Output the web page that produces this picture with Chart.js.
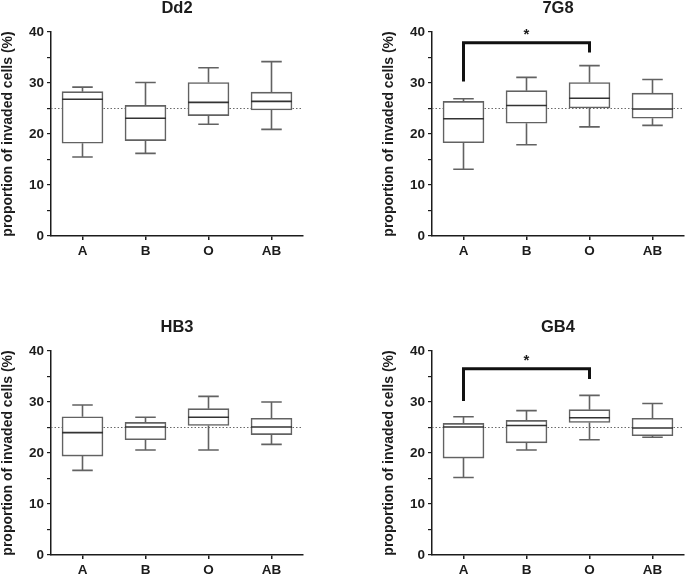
<!DOCTYPE html>
<html>
<head>
<meta charset="utf-8">
<script src="https://cdn.jsdelivr.net/npm/chart.js@4.4.1/dist/chart.umd.min.js"></script>
<style>
  body { margin: 0; background: #fff; width: 685px; height: 574px; position: relative; overflow: hidden; }
  canvas { position: absolute; }
</style>
</head>
<body>
<canvas id="dd2" width="310" height="262" style="left:0;top:0"></canvas>
<canvas id="g7g8" width="310" height="262" style="left:381px;top:0"></canvas>
<canvas id="hb3" width="310" height="262" style="left:0;top:319px"></canvas>
<canvas id="gb4" width="310" height="262" style="left:381px;top:319px"></canvas>
<script>
// blood groups on the x axis
const groups = ["A", "B", "O", "AB"];
const yTicks = [0, 10, 20, 30, 40];
const expected = 25;

// five-number summaries per group: [min, q1, median, q3, max]
const dd2Box = [[15.5, 18.2, 26.8, 28.3, 29.2], [16.2, 18.7, 23.1, 25.6, 30.1], [21.9, 23.6, 26.2, 30.1, 33.0], [20.9, 24.7, 26.4, 28.2, 34.2]];
const g7g8Box = [[13.1, 18.3, 23.0, 26.4, 26.9], [17.9, 22.1, 25.6, 28.5, 31.1], [21.4, 25.1, 27.0, 30.1, 33.4], [21.7, 23.1, 24.9, 28.0, 30.7]];
const hb3Box = [[16.6, 19.4, 24.0, 27.1, 29.4], [20.6, 22.6, 25.1, 26.0, 27.0], [20.6, 25.4, 27.0, 28.7, 31.1], [21.7, 23.6, 25.1, 26.8, 30.0]];
const gb4Box = [[15.2, 19.0, 25.1, 25.8, 27.1], [20.6, 22.0, 25.4, 26.4, 28.3], [22.6, 26.0, 26.9, 28.5, 31.3], [23.1, 23.4, 24.9, 26.8, 29.7]];

// significance brackets A vs O: [left end, top, right end]
const sigPair = ["A", "O"];
const g7g8Sig = [30.3, 37.9, 36.0];
const gb4Sig = [30.2, 36.5, 34.5];

const FONT = "'Liberation Sans', Arial, sans-serif";
const INK = "#1c1c1c";
const BOX = "#626262";

function boxPlot(stats, bracket) {
    return {
        id: "boxPlot",
        beforeDatasetsDraw(chart) {
            const { ctx, chartArea, scales } = chart;
            const yRef = scales.y.getPixelForValue(expected);
            ctx.save();
            ctx.strokeStyle = "#6a6a6a";
            ctx.lineWidth = 1;
            ctx.setLineDash([1.5, 2]);
            ctx.beginPath();
            ctx.moveTo(chartArea.left, yRef);
            ctx.lineTo(chartArea.right, yRef);
            ctx.stroke();
            ctx.restore();
        },
        afterDatasetsDraw(chart) {
            const { ctx, scales: { x, y } } = chart;
            const bars = chart.getDatasetMeta(0).data;
            ctx.save();
            ctx.lineCap = "butt";
            stats.forEach((s, i) => {
                const [lo, q1, med, q3, hi] = s;
                const cx = x.getPixelForValue(i);
                const half = bars[i].width / 2;
                const cap = half / 2;
                ctx.strokeStyle = BOX;
                ctx.lineWidth = 1.6;
                ctx.beginPath();
                ctx.moveTo(cx, y.getPixelForValue(q3));
                ctx.lineTo(cx, y.getPixelForValue(hi));
                ctx.moveTo(cx - cap, y.getPixelForValue(hi));
                ctx.lineTo(cx + cap, y.getPixelForValue(hi));
                ctx.moveTo(cx, y.getPixelForValue(q1));
                ctx.lineTo(cx, y.getPixelForValue(lo));
                ctx.moveTo(cx - cap, y.getPixelForValue(lo));
                ctx.lineTo(cx + cap, y.getPixelForValue(lo));
                ctx.stroke();
                ctx.strokeStyle = "#333";
                ctx.beginPath();
                ctx.moveTo(cx - half, y.getPixelForValue(med));
                ctx.lineTo(cx + half, y.getPixelForValue(med));
                ctx.stroke();
            });
            if (bracket) {
                const x0 = x.getPixelForValue(groups.indexOf(sigPair[0]));
                const x1 = x.getPixelForValue(groups.indexOf(sigPair[1]));
                ctx.strokeStyle = "#111";
                ctx.lineWidth = 3;
                ctx.lineJoin = "miter";
                ctx.beginPath();
                ctx.moveTo(x0, y.getPixelForValue(bracket[0]));
                ctx.lineTo(x0, y.getPixelForValue(bracket[1]));
                ctx.lineTo(x1, y.getPixelForValue(bracket[1]));
                ctx.lineTo(x1, y.getPixelForValue(bracket[2]));
                ctx.stroke();
                ctx.fillStyle = INK;
                ctx.font = "bold 15px " + FONT;
                ctx.textAlign = "center";
                ctx.textBaseline = "middle";
                ctx.fillText("*", (x0 + x1) / 2, y.getPixelForValue(bracket[1] + 1.5));
            }
            ctx.restore();
        }
    };
}

function drawPanel(id, title, stats, bracket) {
    return new Chart(document.getElementById(id), {
        type: "bar",
        data: {
            labels: groups,
            datasets: [{
                data: stats.map((s) => [s[1], s[3]]),
                backgroundColor: "#fff",
                borderColor: BOX,
                borderWidth: 1.6,
                borderSkipped: false,
                barThickness: 41
            }]
        },
        options: {
            responsive: false,
            devicePixelRatio: 1,
            animation: false,
            layout: { padding: { left: 0, right: 7, top: 0, bottom: 0 } },
            plugins: {
                legend: { display: false },
                tooltip: { enabled: false },
                title: {
                    display: true,
                    text: title,
                    fullSize: false,
                    color: INK,
                    font: { family: FONT, size: 16.5, weight: "bold", lineHeight: 1 },
                    padding: { top: 0, bottom: 15.5 }
                }
            },
            scales: {
                x: {
                    offset: true,
                    afterFit: (scale) => { scale.height = 26; },
                    grid: { offset: false, drawOnChartArea: false, tickLength: 4, color: INK, lineWidth: 1.5 },
                    border: { color: INK, width: 1.5 },
                    ticks: { color: INK, padding: 3, font: { family: FONT, size: 13.5, weight: "bold" } }
                },
                y: {
                    min: 0,
                    max: 40,
                    afterFit: (scale) => { scale.width = 51; },
                    grid: { drawOnChartArea: false, tickLength: 4, color: INK, lineWidth: 1.2 },
                    border: { color: INK, width: 1.5 },
                    ticks: {
                        stepSize: 5,
                        padding: 3,
                        color: INK,
                        font: { family: FONT, size: 13.5, weight: "bold" },
                        callback: (v) => (yTicks.includes(v) ? v : "")
                    },
                    title: {
                        display: true,
                        text: "proportion of invaded cells (%)",
                        color: INK,
                        padding: { top: 0, bottom: 0 },
                        font: { family: FONT, size: 14, weight: "bold" }
                    }
                }
            }
        },
        plugins: [boxPlot(stats, bracket)]
    });
}

drawPanel("dd2", "Dd2", dd2Box, null);
drawPanel("g7g8", "7G8", g7g8Box, g7g8Sig);
drawPanel("hb3", "HB3", hb3Box, null);
drawPanel("gb4", "GB4", gb4Box, gb4Sig);
</script>
</body>
</html>
